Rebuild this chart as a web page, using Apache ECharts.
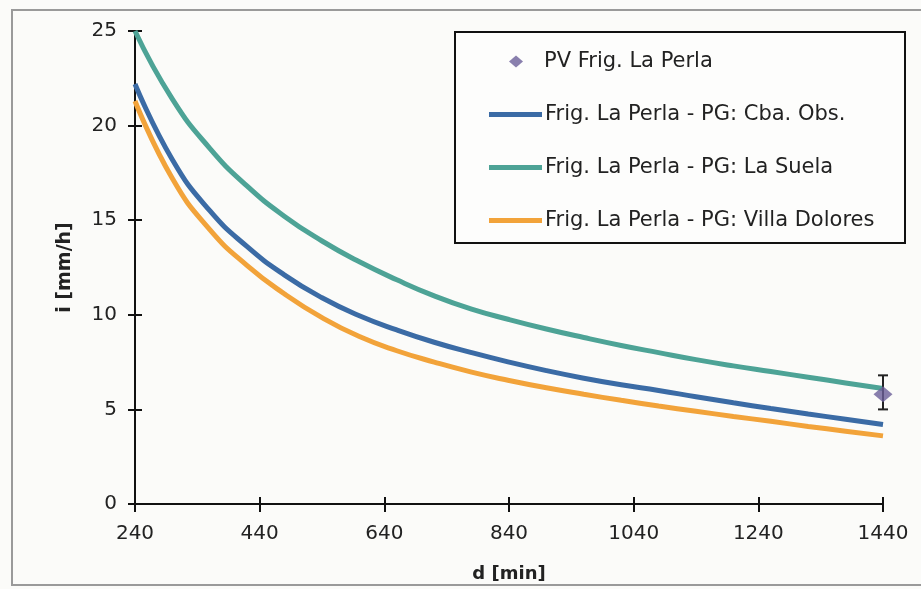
<!DOCTYPE html>
<html><head><meta charset="utf-8">
<script src="https://cdn.jsdelivr.net/npm/echarts@6/dist/echarts.min.js"></script>
<style>html,body{margin:0;padding:0;background:#fbfbf9}#c{width:921px;height:589px}</style>
</head><body><div id="c"></div>
<script>
const durations = [240, 300, 360, 420, 480, 540, 600, 660, 720, 780, 840, 900, 960, 1020, 1080, 1140, 1200, 1260, 1320, 1380, 1440];
const cbaObs =    [22.2, 18.2, 15.5, 13.6, 12.1, 10.9, 9.95, 9.2, 8.55, 8.0, 7.5, 7.05, 6.65, 6.3, 6.0, 5.67, 5.35, 5.05, 4.76, 4.48, 4.2];
const laSuela =   [25.0, 21.4, 18.8, 16.8, 15.2, 13.9, 12.8, 11.85, 11.0, 10.3, 9.75, 9.25, 8.8, 8.38, 8.0, 7.63, 7.3, 7.0, 6.7, 6.4, 6.1];
const villaDol =  [21.3, 17.2, 14.5, 12.6, 11.1, 9.85, 8.85, 8.1, 7.5, 6.97, 6.53, 6.14, 5.8, 5.48, 5.18, 4.9, 4.63, 4.37, 4.1, 3.85, 3.6];
const pvD = [1440];
const pvI = [5.8];
const pvLow = [5.0];
const pvHigh = [6.8];
const xTicks = {min: 240, max: 1440, step: 200};
const yTicks = {min: 0, max: 25, step: 5};
const names = ['PV Frig. La Perla', 'Frig. La Perla - PG: Cba. Obs.', 'Frig. La Perla - PG: La Suela', 'Frig. La Perla - PG: Villa Dolores'];

const pair = (xs, ys) => xs.map((x, i) => [x, ys[i]]);
const FONT = 'DejaVu Sans';
const TXT = '#222';
const chart = echarts.init(document.getElementById('c'));
const baseX = {type: 'value', min: xTicks.min, max: xTicks.max, interval: xTicks.step, splitLine: {show: false},
  axisLine: {lineStyle: {color: '#111', width: 2}}};
const baseY = {type: 'value', min: yTicks.min, max: yTicks.max, interval: yTicks.step, splitLine: {show: false},
  axisLine: {show: true, lineStyle: {color: '#111', width: 2}}};
chart.setOption({
  backgroundColor: '#fbfbf9',
  animation: false,
  grid: {left: 135, right: 38, top: 31, bottom: 85},
  graphic: [
    {type: 'rect', shape: {x: 12, y: 10, width: 920, height: 575}, style: {fill: 'none', stroke: '#9a9a9a', lineWidth: 2}, z: 0},
    {type: 'rect', shape: {x: 455, y: 32, width: 450, height: 211}, style: {fill: '#fdfdfc', stroke: '#111', lineWidth: 2}, z: 5}
  ],
  legend: [
    {data: [{name: names[0], icon: 'diamond'}], left: 504, top: 46, itemWidth: 14, itemHeight: 12, z: 10,
      textStyle: {fontFamily: FONT, fontSize: 21, color: TXT, padding: [0, 0, 0, 16]}},
    {data: names.slice(1).map(n => ({name: n, icon: 'rect'})), orient: 'vertical', left: 484, top: 99, z: 10,
      itemWidth: 53, itemHeight: 5, itemGap: 32,
      textStyle: {fontFamily: FONT, fontSize: 21, color: TXT, lineHeight: 20, padding: [0, 0, 0, -2]}}
  ],
  xAxis: [
    Object.assign({}, baseX, {name: 'd [min]', nameLocation: 'middle', nameGap: 61,
      nameTextStyle: {fontFamily: FONT, fontSize: 18, fontWeight: 'bold', color: TXT},
      axisTick: {show: true, inside: false, length: 8, lineStyle: {color: '#111', width: 2}},
      axisLabel: {fontFamily: FONT, fontSize: 20, color: TXT, margin: 20, formatter: v => String(v)}}),
    Object.assign({}, baseX, {position: 'bottom', offset: 0,
      axisTick: {show: true, inside: true, length: 7, lineStyle: {color: '#111', width: 2}},
      axisLabel: {show: false}})
  ],
  yAxis: [
    Object.assign({}, baseY, {name: 'i [mm/h]', nameLocation: 'middle', nameGap: 60,
      nameTextStyle: {fontFamily: FONT, fontSize: 19, fontWeight: 'bold', color: TXT},
      axisTick: {show: true, inside: false, length: 7, lineStyle: {color: '#111', width: 2}},
      axisLabel: {fontFamily: FONT, fontSize: 20, color: TXT, margin: 18, formatter: v => String(v)}}),
    Object.assign({}, baseY, {position: 'left', offset: 0,
      axisTick: {show: true, inside: true, length: 7, lineStyle: {color: '#111', width: 2}},
      axisLabel: {show: false}})
  ],
  series: [
    {name: names[2], type: 'line', smooth: 0.5, showSymbol: false, data: pair(durations, laSuela),
      lineStyle: {color: '#4da396', width: 5}, itemStyle: {color: '#4da396'}, z: 3},
    {name: names[1], type: 'line', smooth: 0.5, showSymbol: false, data: pair(durations, cbaObs),
      lineStyle: {color: '#3b6ba5', width: 5}, itemStyle: {color: '#3b6ba5'}, z: 3},
    {name: names[3], type: 'line', smooth: 0.5, showSymbol: false, data: pair(durations, villaDol),
      lineStyle: {color: '#f2a33a', width: 5}, itemStyle: {color: '#f2a33a'}, z: 2},
    {name: 'err', type: 'custom', data: pvD.map((d, i) => [d, pvLow[i], pvHigh[i]]), z: 6,
      renderItem: function (params, api) {
        const lo = api.coord([api.value(0), api.value(1)]);
        const hi = api.coord([api.value(0), api.value(2)]);
        const w = 5;
        const st = {stroke: '#222', lineWidth: 2};
        return {type: 'group', children: [
          {type: 'line', shape: {x1: lo[0], y1: lo[1], x2: hi[0], y2: hi[1]}, style: st},
          {type: 'line', shape: {x1: lo[0] - w, y1: lo[1], x2: lo[0] + w, y2: lo[1]}, style: st},
          {type: 'line', shape: {x1: hi[0] - w, y1: hi[1], x2: hi[0] + w, y2: hi[1]}, style: st}
        ]};
      }},
    {name: names[0], type: 'scatter', symbol: 'diamond', symbolSize: [19, 16], data: pair(pvD, pvI),
      itemStyle: {color: '#6b5f98'}, z: 7}
  ]
});
</script></body></html>
